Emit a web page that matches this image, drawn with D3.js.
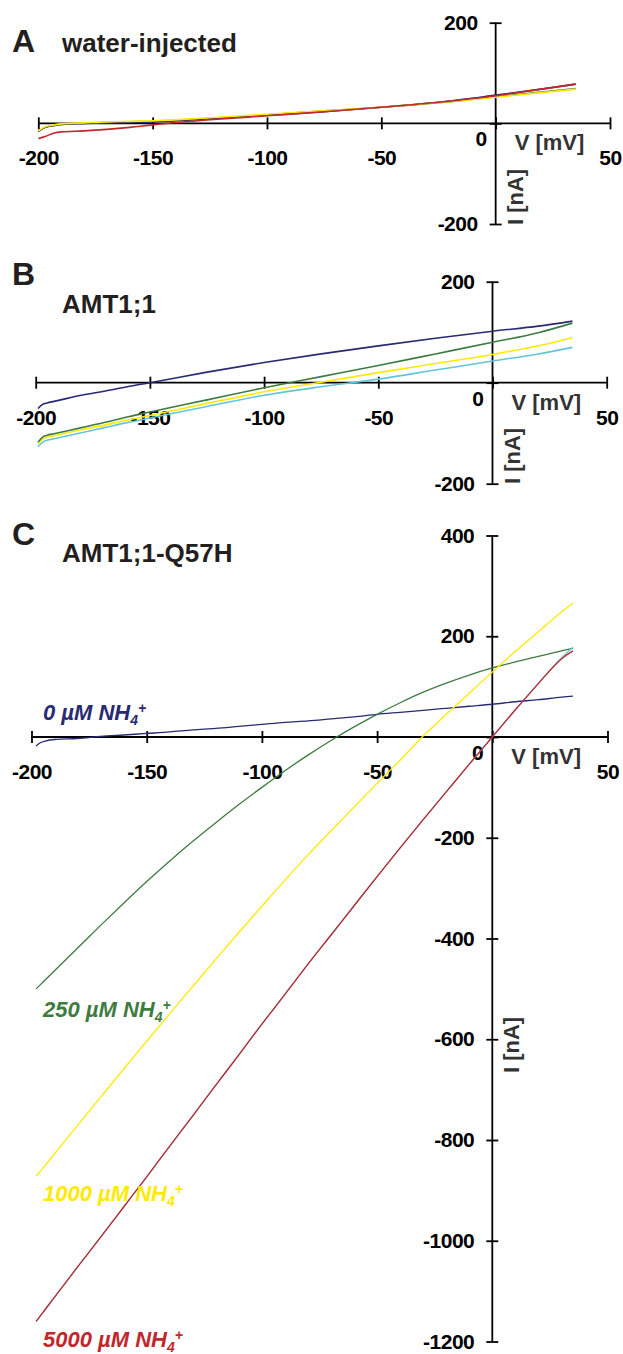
<!DOCTYPE html>
<html lang="en">
<head>
    <meta charset="UTF-8">
    <title>I-V curves - AMT1;1</title>
    <script src="https://d3js.org/d3.v7.min.js"></script>
    <style>
        body {
            margin: 0;
            background: #fff;
        }

        svg {
            display: block;
            font-family: "Liberation Sans", Arial, Helvetica, sans-serif;
        }

        .tick text, .tick-zero {
            font-size: 21px;
            font-weight: bold;
            letter-spacing: -0.5px;
            fill: #000;
        }

        .panel-letter {
            font-size: 32px;
            font-weight: bold;
            fill: #231f20;
        }

        .panel-title {
            font-size: 26px;
            font-weight: bold;
            fill: #231f20;
        }

        .axis-title {
            font-size: 22px;
            font-weight: bold;
            fill: #333;
        }

        .conc-label {
            font-size: 22px;
            font-weight: bold;
            font-style: italic;
        }
    </style>
</head>
<body>

<div id="chart"></div>

<script>
    // colours of the traces
    const navy = "#282a74";
    const green = "#3e7b40";
    const yellow = "#ffea00";
    const red = "#c1272d";
    const cyan = "#62c6d8";

    const xTicks = [-200, -150, -100, -50, 0, 50];

    // ---- A: water-injected ----
    const voltsA = [-200, -197, -193, -190, -180, -170, -160, -150, -125, -100, -75, -50, -25, 0, 20, 35];
    const greenA = [-16, -8, -4, -2, 0, 2, 3, 4, 10, 17, 25, 32, 41, 53, 62, 69];
    const navyA = [-16, -8, -4, -2, 0, 1, 2, 3, 9, 16, 23, 32, 42, 56, 68, 78];
    const yellowA = [-15, -7, -3, -1, 1, 3, 4, 5, 11, 18, 25, 32, 41, 52, 61, 68];
    const redA = [-30, -26, -19, -17, -15, -12, -8, -3, 7, 15, 23, 32, 42, 55, 68, 78];
    const yTicksA = [-200, 0, 200];

    // ---- B: AMT1;1 ----
    const voltsB = [-199, -197, -195, -192, -190, -180, -170, -160, -150, -125, -100, -75, -50, -25, 0, 20, 35];
    const navyB = [-51, -43, -40, -37, -35, -25, -17, -8, 0, 21, 40, 57, 73, 88, 102, 112, 122];
    const greenB = [-118, -108, -104, -101, -99, -89, -79, -68, -58, -34, -10, 12, 34, 57, 80, 99, 118];
    const yellowB = [-121, -112, -108, -105, -103, -93, -84, -74, -65, -41, -18, 1, 20, 38, 56, 73, 89];
    const cyanB = [-127, -118, -114, -111, -109, -99, -89, -79, -70, -47, -25, -8, 7, 25, 43, 57, 70];
    const yTicksB = [-200, 0, 200];

    // ---- C: AMT1;1-Q57H ----
    const voltsC = [-198, -196, -194, -190, -180, -170, -160, -150, -140, -130, -120, -110, -100, -90, -80, -70, -60, -50, -40, -30, -20, -10, 0, 10, 20, 30, 35];
    const navyC = [-18, -11, -8, -5, -3, 1, 4, 7, 10, 14, 17, 21, 25, 29, 32, 36, 40, 45, 49, 53, 57, 61, 65, 70, 74, 79, 81];
    const greenC = [-500, -491, -482, -464, -419, -374, -330, -287, -246, -207, -170, -134, -100, -67, -36, -7, 20, 45, 68, 89, 107, 123, 137, 149, 160, 171, 176];
    const cyanC = [-1160, -1148, -1136, -1112, -1052, -993, -933, -873, -812, -752, -691, -631, -570, -511, -451, -393, -335, -277, -220, -164, -109, -54, 0, 54, 107, 157, 178];
    const yellowC = [-872, -861, -850, -827, -771, -715, -659, -604, -549, -495, -441, -388, -336, -284, -234, -186, -139, -92, -46, 2, 45, 87, 129, 170, 209, 248, 266];
    const redC = [-1160, -1148, -1136, -1112, -1052, -993, -933, -873, -812, -752, -691, -631, -570, -511, -451, -393, -335, -277, -220, -164, -109, -54, 0, 54, 106, 155, 171];
    const yTicksC = [-1200, -1000, -800, -600, -400, -200, 0, 200, 400];

    const concLabels = [
        {num: "0", color: navy, x: 43, y: 720},
        {num: "250", color: green, x: 43, y: 1017},
        {num: "1000", color: yellow, x: 43, y: 1201},
        {num: "5000", color: red, x: 43, y: 1347}
    ];

    const width = 623;
    const height = 1354;

    const svg = d3.select("#chart")
        .append("svg")
        .attr("width", width)
        .attr("height", height);

    const panels = [
        {
            letter: "A", title: "water-injected", letterY: 51.5, titleY: 52,
            xRange: [38.3, 610], yDomain: [-200, 200], yRange: [224, 22.7],
            yTicks: yTicksA, iLabelY: 197, lw: 1.6,
            volts: voltsA,
            series: [
                {values: greenA, color: green},
                {values: navyA, color: navy},
                {values: yellowA, color: yellow},
                {values: redA, color: red}
            ]
        },
        {
            letter: "B", title: "AMT1;1", letterY: 285, titleY: 313,
            xRange: [35.7, 606.7], yDomain: [-200, 200], yRange: [483.7, 281.7],
            yTicks: yTicksB, iLabelY: 456, lw: 1.6,
            volts: voltsB,
            series: [
                {values: cyanB, color: cyan},
                {values: yellowB, color: yellow},
                {values: greenB, color: green},
                {values: navyB, color: navy}
            ]
        },
        {
            letter: "C", title: "AMT1;1-Q57H", letterY: 545, titleY: 562,
            xRange: [31.5, 607.5], yDomain: [-1200, 400], yRange: [1341.5, 535.5],
            yTicks: yTicksC, iLabelY: 1045, lw: 1.3,
            volts: voltsC,
            series: [
                {values: navyC, color: navy},
                {values: greenC, color: green},
                {values: cyanC, color: cyan},
                {values: yellowC, color: yellow},
                {values: redC, color: red}
            ]
        }
    ];

    panels.forEach(drawPanel);

    function drawPanel(p) {
        const x = d3.scaleLinear().domain([-200, 50]).range(p.xRange);
        const y = d3.scaleLinear().domain(p.yDomain).range(p.yRange);
        const x0 = x(0);
        const y0 = y(0);

        const g = svg.append("g");

        g.append("text")
            .attr("class", "panel-letter")
            .attr("x", 12)
            .attr("y", p.letterY)
            .text(p.letter);

        g.append("text")
            .attr("class", "panel-title")
            .attr("x", 62)
            .attr("y", p.titleY)
            .text(p.title);

        // x axis: ticks cross the line
        const xAxis = g.append("g")
            .attr("transform", `translate(0,${y0 - 6})`)
            .call(d3.axisBottom(x)
                .tickValues(xTicks)
                .tickSize(12)
                .tickFormat(d => d === 0 ? "" : String(d)));
        xAxis.select(".domain").remove();
        xAxis.selectAll(".tick line").attr("stroke", "#000").attr("stroke-width", 1.8);
        xAxis.selectAll(".tick text").attr("y", 48).attr("dy", null);

        // y axis
        const yAxis = g.append("g")
            .attr("transform", `translate(${x0 + 6},0)`)
            .call(d3.axisLeft(y)
                .tickValues(p.yTicks)
                .tickSize(12)
                .tickPadding(12)
                .tickFormat(d => d === 0 ? "" : String(d)));
        yAxis.select(".domain").remove();
        yAxis.selectAll(".tick line").attr("stroke", "#000").attr("stroke-width", 1.8);

        g.append("line")
            .attr("x1", x(-200)).attr("x2", x(50))
            .attr("y1", y0).attr("y2", y0)
            .attr("stroke", "#000").attr("stroke-width", 1.8);

        g.append("line")
            .attr("x1", x0).attr("x2", x0)
            .attr("y1", y(p.yDomain[1])).attr("y2", y(p.yDomain[0]))
            .attr("stroke", "#000").attr("stroke-width", 1.8);

        // origin label and axis titles
        g.append("text")
            .attr("class", "tick-zero")
            .attr("x", x0 - 9)
            .attr("y", y0 + 23)
            .attr("text-anchor", "end")
            .text("0");

        g.append("text")
            .attr("class", "axis-title")
            .attr("x", x0 + 19)
            .attr("y", y0 + 27)
            .text("V [mV]");

        g.append("text")
            .attr("class", "axis-title")
            .attr("transform", `translate(${x0 + 27},${p.iLabelY}) rotate(-90)`)
            .attr("text-anchor", "middle")
            .text("I [nA]");

        const line = d3.line()
            .x((d, i) => x(p.volts[i]))
            .y(d => y(d))
            .curve(d3.curveMonotoneX);

        g.selectAll(".trace")
            .data(p.series)
            .enter()
            .append("path")
            .attr("class", "trace")
            .attr("fill", "none")
            .attr("stroke", d => d.color)
            .attr("stroke-width", p.lw)
            .attr("d", d => line(d.values));
    }

    // concentration labels in panel C
    const lab = svg.selectAll(".conc-label")
        .data(concLabels)
        .enter()
        .append("text")
        .attr("class", "conc-label")
        .attr("x", d => d.x)
        .attr("y", d => d.y)
        .attr("fill", d => d.color);

    lab.append("tspan").text(d => d.num + " \u00b5M NH");
    lab.append("tspan").attr("dy", 5).style("font-size", "14px").text("4");
    lab.append("tspan").attr("dy", -12).style("font-size", "14px").text("+");
</script>

</body>
</html>
